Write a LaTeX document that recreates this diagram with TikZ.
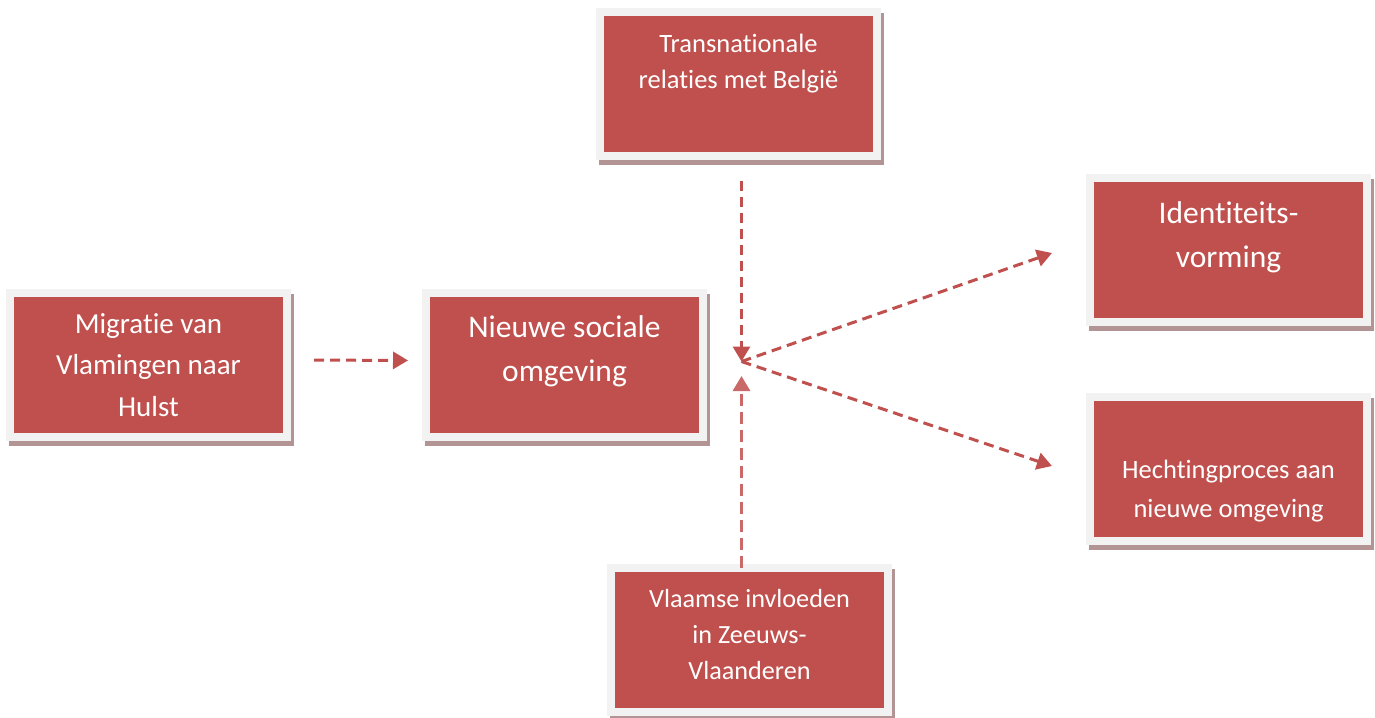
\documentclass[tikz,border=0pt]{standalone}
\usepackage{fontspec}
\setmainfont{Carlito}[Ligatures=NoCommon]
\usetikzlibrary{arrows.meta,calc}
\definecolor{boxred}{HTML}{C0504D}
\definecolor{framegray}{HTML}{F2F2F2}
\definecolor{shadowcol}{HTML}{B39494}
\begin{document}
\begin{tikzpicture}[x=1pt,y=-1pt,
  card/.style={draw=framegray, line width=8pt, fill=boxred,
    minimum width=277pt, minimum height=144pt, inner sep=0pt,
    preaction={draw=shadowcol, fill=shadowcol, line width=8pt,
      transform canvas={shift={(3pt,-5pt)}}}},
  cardtext/.style={text=white, align=center, inner sep=0pt},
  flow/.style={draw=boxred, line width=3pt, dash pattern=on 10pt off 6pt,
    -{Triangle[width=17pt,length=15pt]}}
]
\useasboundingbox (0,0) rectangle (1375,717);

% boxes
\node[card] (mig) at (148.5,364.5) {};
\node[card] (nso) at (564.5,365) {};
\node[card] (tra) at (738.5,84) {};
\node[card] (ide) at (1228.5,249.5) {};
\node[card] (hec) at (1228.5,468.5) {};
\node[card] (vla) at (749.5,639.5) {};

% texts
\node[cardtext, font=\fontsize{29}{41.6}\selectfont] (migt) at (148.5,365)
  {Migratie van\\Vlamingen naar\\Hulst};
\node[cardtext, font=\fontsize{31.5}{44}\selectfont] (nsot) at (564.5,351)
  {Nieuwe sociale\\omgeving};
\node[cardtext, font=\fontsize{26.5}{36.7}\selectfont] (trat) at (738.5,63.5)
  {Transnationale\\relaties met België};
\node[cardtext, font=\fontsize{31.5}{44.4}\selectfont] (idet) at (1228.5,237.5)
  {Identiteits-\\vorming};
\node[cardtext, font=\fontsize{26.5}{38.3}\selectfont] (hect) at (1228.5,491)
  {Hechtingproces aan\\nieuwe omgeving};
\node[cardtext, font=\fontsize{26.2}{36.3}\selectfont] (vlat) at (749.5,634.5)
  {Vlaamse invloeden\\in Zeeuws-\\Vlaanderen};

% hub
\coordinate (hub) at (741.5,361.5);

% connectors
\draw[flow, shorten <=23pt, shorten >=14pt] ([yshift=4.5pt]mig.east) -- ([yshift=4.5pt]nso.west);
\draw[flow, shorten <=21pt] (tra.south -| hub) -- (hub);
\draw[flow, draw=boxred!85, dash pattern=on 12pt off 6pt, shorten <=-4pt, shorten >=14.5pt] (vla.north -| hub) -- (hub);
\draw[flow] (hub) -- ($(ide.west)+(-34,3.5)$);
\draw[flow] (hub) -- ($(hec.west)+(-34,-2.5)$);
\end{tikzpicture}
\end{document}
